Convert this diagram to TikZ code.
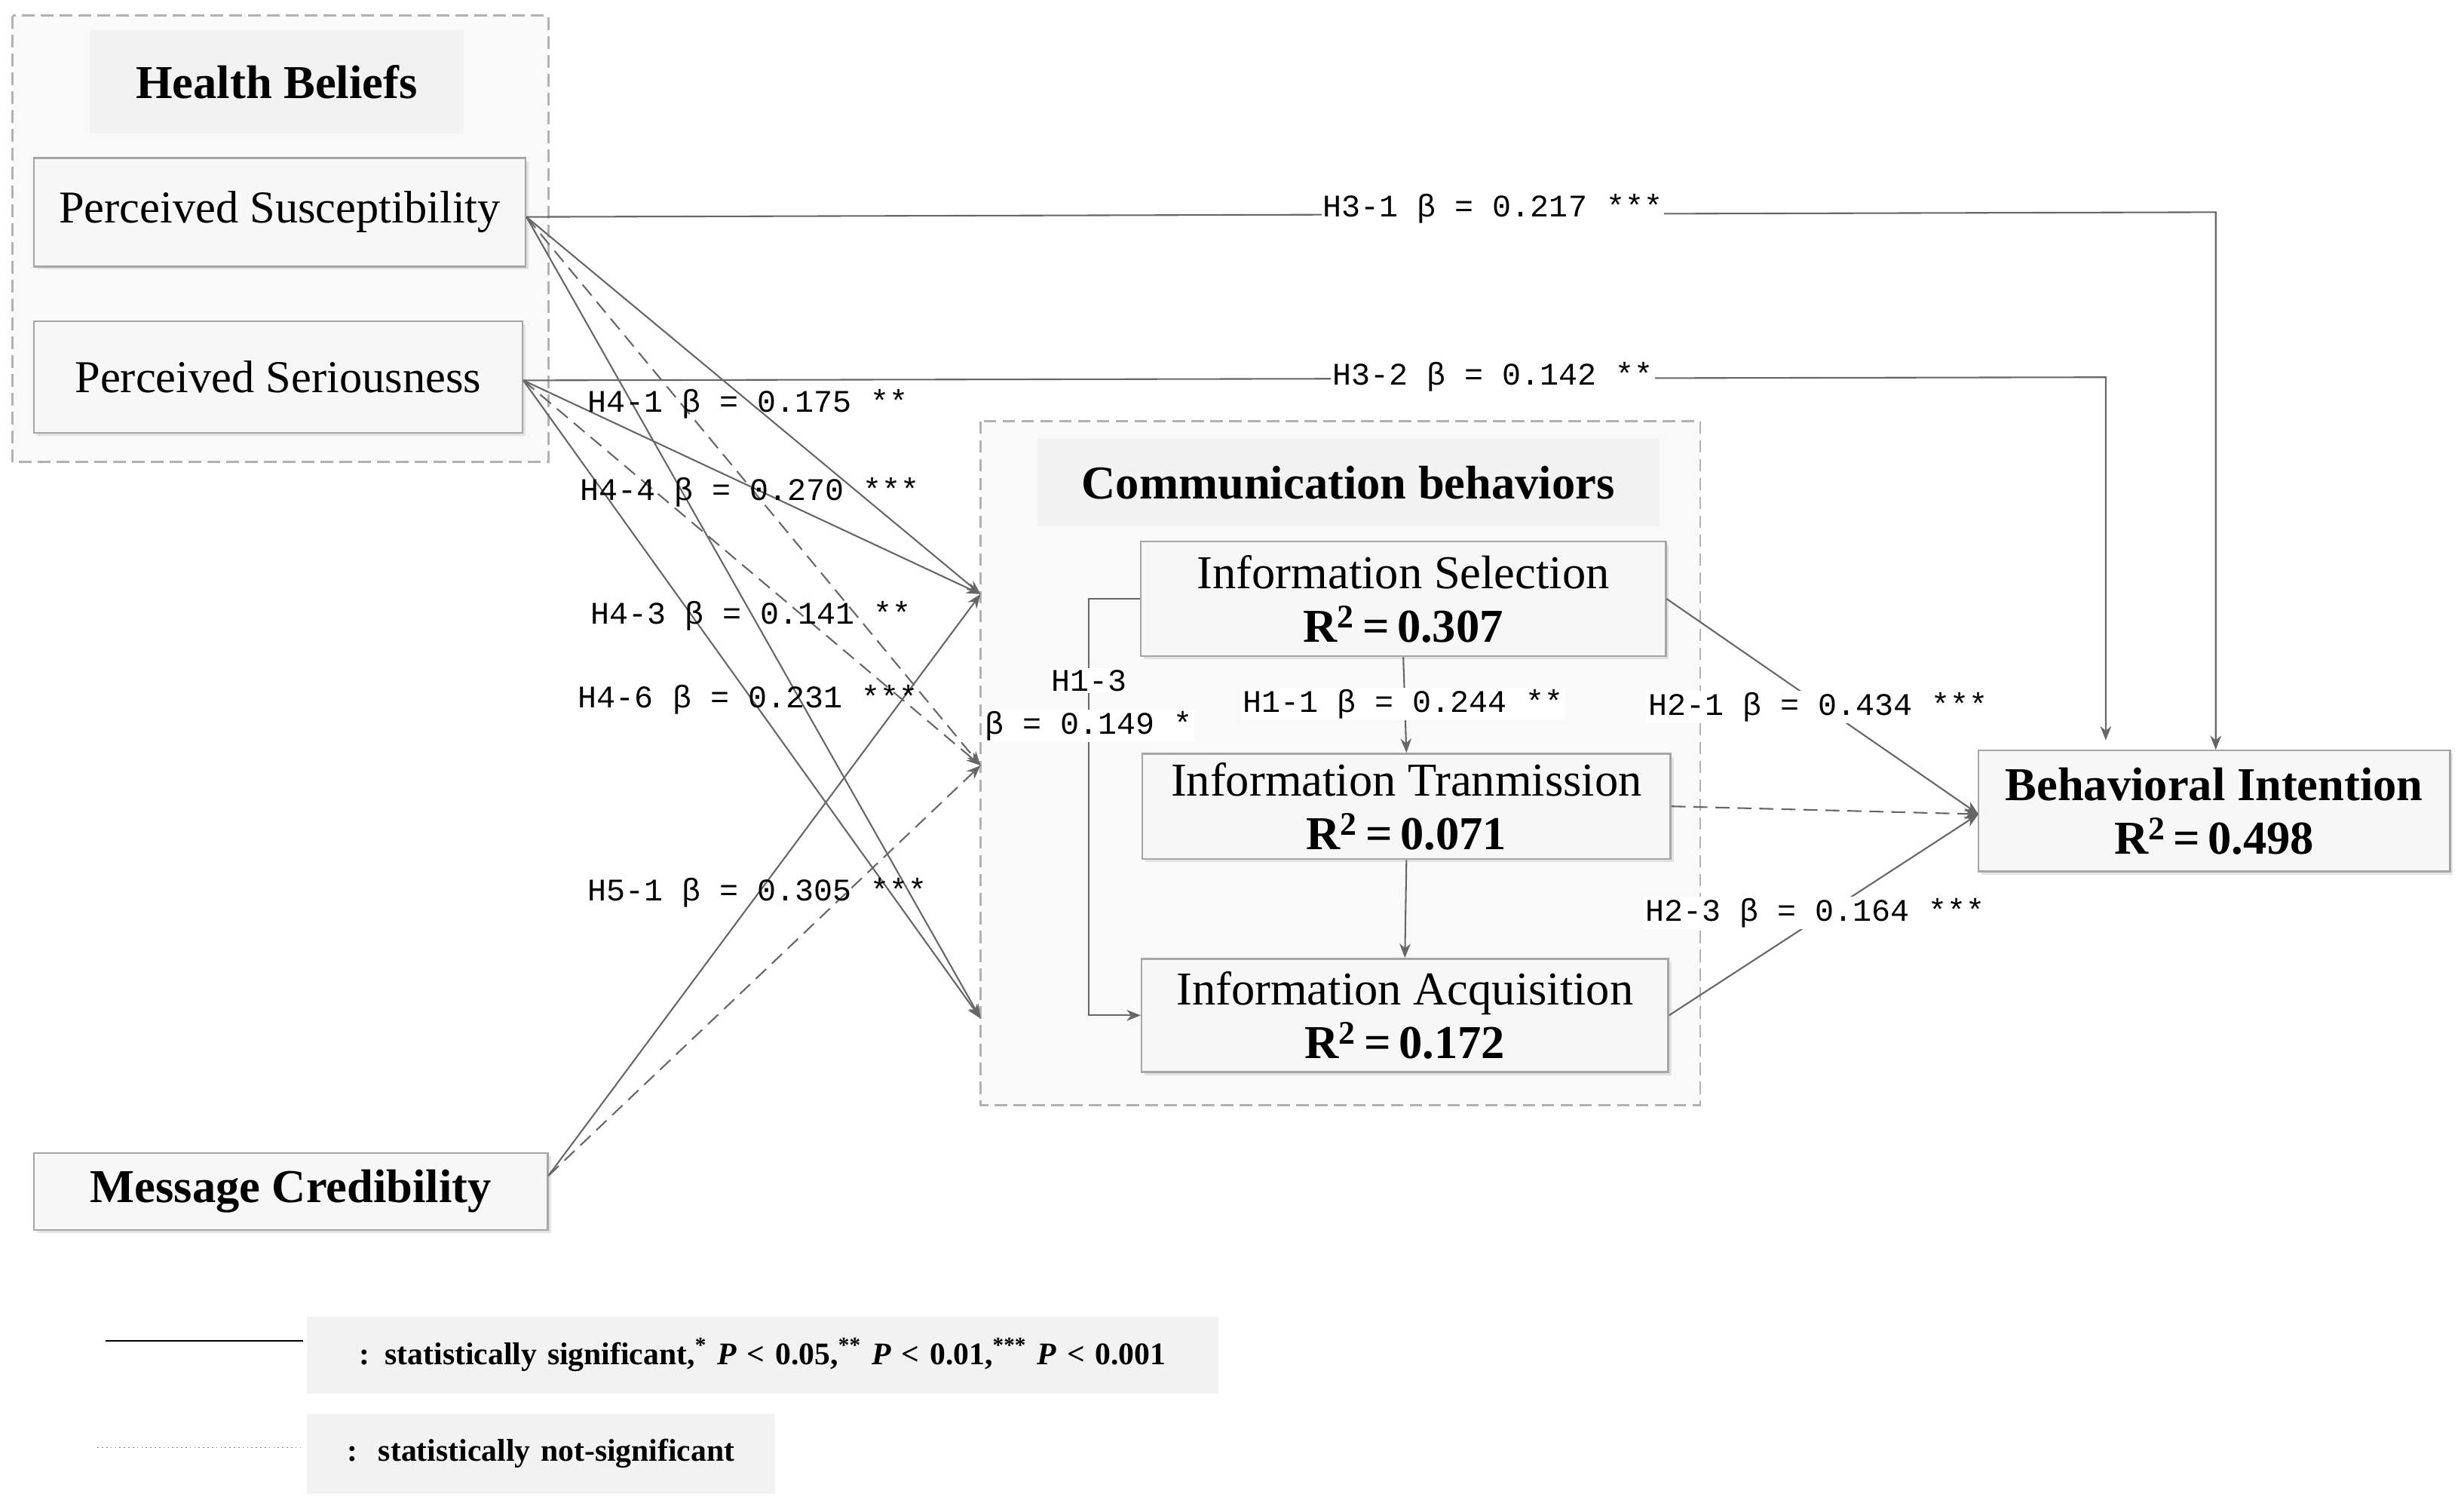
\documentclass[tikz,border=0pt]{standalone}
\usepackage{fontspec}
\setmainfont{Liberation Serif}
\newfontfamily\lblfont{Liberation Mono}
\usetikzlibrary{arrows.meta,shadows}
\begin{document}
\begin{tikzpicture}[x=1pt,y=-1pt,
  box/.style={draw=gray!70,line width=1.2pt,fill=gray!6,drop shadow={shadow xshift=2pt,shadow yshift=-2pt,fill=gray!40},inner sep=0pt,align=center,font=\fontsize{29}{32}\selectfont},
  title/.style={fill=gray!10,inner sep=0pt,align=center,font=\fontsize{30}{32}\selectfont\bfseries},
  grp/.style={draw=gray!60,dashed,line width=1.3pt,dash pattern=on 8pt off 4pt,fill=gray!5},
  lbl/.style={fill=white,inner sep=1pt,font=\lblfont\fontsize{20}{22}\selectfont},
  con/.style={draw=gray!80!black,line width=1pt,-{Stealth[length=9pt,width=7pt]}},
  dcon/.style={con,dash pattern=on 9pt off 5pt}]
\useasboundingbox (0,0) rectangle (1568,958);
% groups
\path[grp] (8,10) rectangle (349,294);
\path[grp] (624,268) rectangle (1082,703);
\node[title,minimum width=238,minimum height=66] (hb) at (176,52) {Health Beliefs};
\node[title,minimum width=396,minimum height=56] (cb) at (858,307) {Communication behaviors};
% nodes
\node[box,minimum width=313,minimum height=69] (ps) at (178,135) {Perceived Susceptibility};
\node[box,minimum width=311,minimum height=71] (pr) at (177,240) {Perceived Seriousness};
\node[box,minimum width=327,minimum height=49,font=\fontsize{30}{32}\selectfont\bfseries] (mc) at (185,758) {Message Credibility};
\node[box,minimum width=334,minimum height=73,font=\fontsize{30}{34}\selectfont] (is) at (893,381) {Information Selection\\\textbf{R\textsuperscript{2}\,=\,0.307}};
\node[box,minimum width=336,minimum height=67,font=\fontsize{30}{34}\selectfont] (it) at (895,513) {Information Tranmission\\\textbf{R\textsuperscript{2}\,=\,0.071}};
\node[box,minimum width=335,minimum height=72,font=\fontsize{30}{34}\selectfont] (ia) at (894,646) {Information Acquisition\\\textbf{R\textsuperscript{2}\,=\,0.172}};
\node[box,minimum width=300,minimum height=77,font=\fontsize{30}{34}\selectfont] (bi) at (1409,516) {\textbf{Behavioral Intention}\\\textbf{R\textsuperscript{2}\,=\,0.498}};
% anchors on communication box edge
\coordinate (tS) at (624,378);
\coordinate (tT) at (624,487);
\coordinate (tA) at (624,648);
\coordinate (psE) at (335,138);
\coordinate (prE) at (333,242);
\coordinate (mcE) at (349,748);
\coordinate (biT) at (1259,518);
% H3
\draw[con] (psE) -- (1410,135) -- (1410,477);
\draw[con] (prE) -- (1340,240) -- (1340,471);
\node[lbl] at (950,133) {H3-1 β = 0.217 ***};
\node[lbl] at (950,240) {H3-2 β = 0.142 **};
% H4
\draw[con] (psE) -- (tS);
\draw[dcon] (psE) -- (tT);
\draw[con] (psE) -- (tA);
\draw[con] (prE) -- (tS);
\draw[dcon] (prE) -- (tT);
\draw[con] (prE) -- (tA);
\draw[con] (mcE) -- (tS);
\draw[dcon] (mcE) -- (tT);
\node[lbl,fill=none] at (476,257) {H4-1 β = 0.175 **};
\node[lbl,fill=none] at (477,313) {H4-4 β = 0.270 ***};
\node[lbl,fill=none] at (478,392) {H4-3 β = 0.141 **};
\node[lbl,fill=none] at (476,445) {H4-6 β = 0.231 ***};
\node[lbl,fill=none] at (482,568) {H5-1 β = 0.305 ***};
% H1
\draw[con] (is.south) -- (it.north);
\draw[con] (it.south) -- (ia.north);
\draw[con] (is.west) -- (693,381) -- (693,646) -- (ia.west);
\node[lbl] at (893,448) {H1-1 β = 0.244 **};
\node[lbl] at (693,433) {H1-3};
\node[lbl] at (693,462) {β = 0.149 *};
% H2
\draw[con] (is.east) -- (biT);
\draw[dcon] (it.east) -- (biT);
\draw[con] (ia.east) -- (biT);
\node[lbl] at (1157,450) {H2-1 β = 0.434 ***};
\node[lbl] at (1155,581) {H2-3 β = 0.164 ***};
% legend
\coordinate (l1a) at (67,853); \coordinate (l1b) at (193,853);
\coordinate (l2a) at (62,921); \coordinate (l2b) at (193,921);
\draw[line width=1.2pt] (l1a) -- (l1b);
\draw[gray,line width=0.8pt,dotted] (l2a) -- (l2b);
\node[title,anchor=west,minimum width=580,minimum height=49,font=\fontsize{20}{22}\selectfont\bfseries,text width=570] (lg1) at (195,862) {: statistically significant,\textsuperscript{*} \textit{P} < 0.05,\textsuperscript{**} \textit{P} < 0.01,\textsuperscript{***} \textit{P} < 0.001};
\node[title,anchor=west,minimum width=298,minimum height=51,font=\fontsize{20}{22}\selectfont\bfseries,text width=288] (lg2) at (195,925) {:\ \ statistically not-significant};
\end{tikzpicture}
\end{document}
